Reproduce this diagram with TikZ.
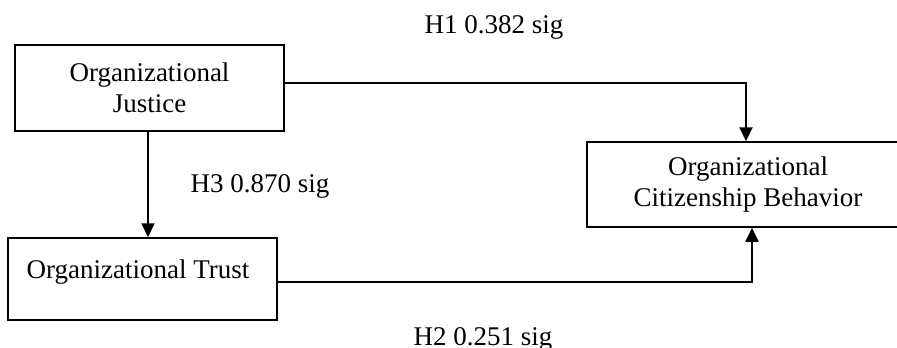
\documentclass[tikz,border=0pt]{standalone}
\usepackage{fontspec}
\setmainfont{Liberation Serif}
\usetikzlibrary{arrows.meta}
\begin{document}
\begin{tikzpicture}[x=1pt,y=-1pt,
  every node/.style={font=\fontsize{27}{31}\selectfont},
  box/.style={draw, line width=1.5pt, inner sep=0pt, align=center},
  arr/.style={line width=2pt, -{Triangle[length=14pt,width=13pt]}},
  lbl/.style={anchor=base, inner sep=0pt}]
\clip (0,0) rectangle (897,348);
\node[box, minimum width=269, minimum height=86] (just) at (149.5,88) {Organizational\\Justice};
\node[box, minimum width=269, minimum height=82] (trust) at (142.5,279) {};
\node[lbl] (trustlbl) at (138,278) {Organizational Trust};
\node[box, minimum width=322, minimum height=85] (ocb) at (748,184.5) {Organizational\\Citizenship Behavior};
\draw[arr] ([yshift=5pt]just.east) -| ([xshift=-2pt]ocb.north);
\draw[arr] ([xshift=-1.5pt]just.south) -- ([xshift=5.5pt]trust.north);
\draw[arr] ([yshift=-3pt]trust.east) -| ([xshift=4pt]ocb.south);
\node[lbl] (h1) at (494,33) {H1 0.382 sig};
\node[lbl] (h3) at (260,192) {H3 0.870 sig};
\node[lbl] (h2) at (483,345) {H2 0.251 sig};
\end{tikzpicture}
\end{document}
